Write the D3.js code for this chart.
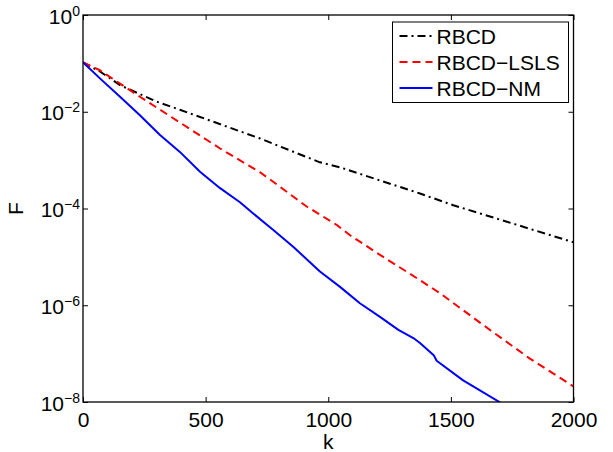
<!DOCTYPE html>
<html>
<head>
<meta charset="utf-8">
<script src="https://cdn.jsdelivr.net/npm/d3@7"></script>
<style>
  body { margin: 0; background: #fff; }
  text { font-family: "Liberation Sans", Arial, Helvetica, sans-serif; }
</style>
</head>
<body>
<div id="chart"></div>
<script>
// Data (k, F)
const kRBCD = [0, 69, 151, 300, 395, 722, 966, 1048, 1374, 1510, 2000];
const fRBCD = [1.05e-1, 6.8e-2, 3.55e-2, 1.62e-2, 1.10e-2, 2.8e-3, 9.0e-4, 7.1e-4, 2.04e-4, 1.17e-4, 2.0e-5];

const kLSLS = [0, 69, 232, 395, 559, 722, 762, 912, 1034, 1089, 1211, 1374, 1455, 1659, 1687, 1822, 2000];
const fLSLS = [1.05e-1, 7.2e-2, 2.04e-2, 6.0e-3, 1.74e-3, 5.6e-4, 4.0e-4, 1.10e-4, 4.6e-5, 2.8e-5, 1.10e-5, 3.3e-6, 1.78e-6, 3.1e-7, 2.45e-7, 7.9e-8, 2.1e-8];

const kNM = [0, 69, 151, 232, 314, 395, 477, 559, 640, 694, 776, 857, 966, 1048, 1129, 1211, 1286, 1347, 1374, 1430, 1442, 1550, 1695, 1720];
const fNM = [1.05e-1, 4.9e-2, 2.04e-2, 8.5e-3, 3.3e-3, 1.48e-3, 5.75e-4, 2.63e-4, 1.35e-4, 7.9e-5, 3.6e-5, 1.62e-5, 5.0e-6, 2.4e-6, 1.10e-6, 5.75e-7, 3.1e-7, 2.1e-7, 1.66e-7, 9.3e-8, 7.1e-8, 2.8e-8, 1.02e-8, 8.3e-9];

const seriesNames = ["RBCD", "RBCD\u2212LSLS", "RBCD\u2212NM"];
const xTicks = [0, 500, 1000, 1500, 2000];
const yTickExps = [0, -2, -4, -6, -8];

const series = [
  {name: seriesNames[0], k: kRBCD, f: fRBCD, color: "#000000", dash: "8,4,2,4"},
  {name: seriesNames[1], k: kLSLS, f: fLSLS, color: "#ff0000", dash: "8,5"},
  {name: seriesNames[2], k: kNM, f: fNM, color: "#0000ff", dash: null}
];

// ------ Drawing area ------ //
const width = 613;
const height = 452;
const margin = {top: 15, right: 39.5, bottom: 50, left: 83};
const innerWidth = width - margin.left - margin.right;
const innerHeight = height - margin.top - margin.bottom;

const svg = d3.select("#chart")
  .append("svg")
  .attr("width", width)
  .attr("height", height);
const innerChart = svg
  .append("g")
  .attr("transform", `translate(${margin.left}, ${margin.top})`);

// ------ Scales ------ //
const xScale = d3.scaleLinear()
  .domain([0, 2000])
  .range([0, innerWidth]);
const yScale = d3.scaleLog()
  .domain([1e-8, 1])
  .range([innerHeight, 0]);

// Clip for the curves
innerChart.append("clipPath")
  .attr("id", "plot-clip")
  .append("rect")
    .attr("width", innerWidth)
    .attr("height", innerHeight);

// ------ Curves ------ //
const lineGenerator = d3.line()
  .x(d => xScale(d[0]))
  .y(d => yScale(d[1]));

series.forEach(s => {
  const pts = s.k.map((k, i) => [k, s.f[i]]);
  innerChart.append("path")
    .attr("clip-path", "url(#plot-clip)")
    .attr("d", lineGenerator(pts))
    .attr("fill", "none")
    .attr("stroke", s.color)
    .attr("stroke-width", 2)
    .attr("stroke-linejoin", "round")
    .attr("stroke-dasharray", s.dash);
});

// ------ Axes (ticks inside, on all four sides) ------ //
const fontSize = 21;

const bottomAxis = d3.axisBottom(xScale)
  .tickValues(xTicks)
  .tickFormat(d3.format("d"))
  .tickSize(-5)
  .tickSizeOuter(0)
  .tickPadding(10);
const gx = innerChart.append("g")
  .attr("transform", `translate(0, ${innerHeight})`)
  .call(bottomAxis);
gx.selectAll("text")
  .attr("font-size", fontSize)
  .attr("font-family", "Liberation Sans, Arial, sans-serif")
  .attr("fill", "#000");

innerChart.append("g")
  .call(d3.axisTop(xScale).tickValues(xTicks).tickSize(-5).tickSizeOuter(0).tickFormat(""));

const yTickVals = yTickExps.map(e => Math.pow(10, e));
innerChart.append("g")
  .call(d3.axisLeft(yScale).tickValues(yTickVals).tickSize(-5).tickSizeOuter(0).tickFormat(""));
innerChart.append("g")
  .attr("transform", `translate(${innerWidth}, 0)`)
  .call(d3.axisRight(yScale).tickValues(yTickVals).tickSize(-5).tickSizeOuter(0).tickFormat(""));

innerChart.selectAll(".domain").remove();
innerChart.selectAll(".tick line").attr("stroke", "#000").attr("stroke-width", 1);

// y tick labels as 10^n
yTickExps.forEach(e => {
  const t = innerChart.append("text")
    .attr("x", -3)
    .attr("y", yScale(Math.pow(10, e)) + 8.5)
    .attr("text-anchor", "end")
    .attr("font-size", fontSize)
    .attr("fill", "#000");
  t.append("tspan").text("10");
  t.append("tspan")
    .attr("dy", -8)
    .attr("font-size", 14)
    .text(e < 0 ? "\u2212" + (-e) : String(e));
});

// Box
innerChart.append("rect")
  .attr("width", innerWidth)
  .attr("height", innerHeight)
  .attr("fill", "none")
  .attr("stroke", "#000")
  .attr("stroke-width", 1.3);

// Axis labels
svg.append("text")
  .text("k")
  .attr("x", margin.left + innerWidth / 2)
  .attr("y", 449)
  .attr("text-anchor", "middle")
  .attr("font-size", fontSize);
svg.append("text")
  .text("F")
  .attr("transform", `translate(23, ${margin.top + innerHeight / 2}) rotate(-90)`)
  .attr("text-anchor", "middle")
  .attr("font-size", fontSize);

// ------ Legend ------ //
const legend = svg.append("g")
  .attr("transform", "translate(392.5, 22)");
legend.append("rect")
  .attr("width", 176)
  .attr("height", 80.5)
  .attr("fill", "#fff")
  .attr("stroke", "#000")
  .attr("stroke-width", 1);
series.forEach((s, i) => {
  const cy = 14 + i * 26;
  legend.append("line")
    .attr("x1", 7)
    .attr("x2", 40)
    .attr("y1", cy)
    .attr("y2", cy)
    .attr("stroke", s.color)
    .attr("stroke-width", 2)
    .attr("stroke-dasharray", s.dash);
  legend.append("text")
    .text(s.name)
    .attr("x", 44)
    .attr("y", cy + 8)
    .attr("font-size", fontSize);
});
</script>
</body>
</html>
